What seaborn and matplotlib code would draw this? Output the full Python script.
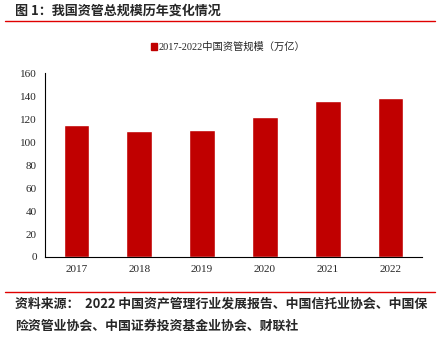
import matplotlib
matplotlib.use("Agg")
import matplotlib.pyplot as plt
import seaborn as sns
import pandas as pd
from matplotlib.patches import Patch
from matplotlib.lines import Line2D

years = ["2017", "2018", "2019", "2020", "2021", "2022"]
scale = [115.3, 109.8, 110.8, 122.1, 135.9, 138.6]
yticks = [0, 20, 40, 60, 80, 100, 120, 140, 160]
series_name = "2017-2022中国资管规模（万亿）"
title = "图 1：我国资管总规模历年变化情况"
source = ["资料来源：  2022 中国资产管理行业发展报告、中国信托业协会、中国保",
          "险资管业协会、中国证券投资基金业协会、财联社"]

sns.set_theme(style="white")
plt.rcParams["font.family"] = ["Liberation Serif", "Noto Sans CJK SC", "DejaVu Sans"]

red = "#C00000"
df = pd.DataFrame({"year": years, "scale": scale})

fig = plt.figure(figsize=(4.46, 3.37), dpi=100)
ax = fig.add_axes([45 / 446, 80 / 337, 377 / 446, 183.7 / 337])
sns.barplot(data=df, x="year", y="scale", color=red, width=0.41,
            saturation=1, ax=ax)

ax.set_xlim(-0.5, len(years) - 0.5)
ax.set_ylim(0, 160)
ax.set_yticks(yticks)
ax.set_yticklabels([str(v) for v in yticks], fontsize=8)
ax.set_xticks([i - 0.5 for i in range(len(years) + 1)])
ax.set_xticklabels([])
ax.set_xticks(range(len(years)), minor=True)
ax.set_xticklabels(years, minor=True, fontsize=8)
ax.tick_params(axis="x", which="major", direction="out", length=3,
               width=0.8, color="black")
ax.tick_params(axis="x", which="minor", length=0, pad=6)
ax.tick_params(axis="y", direction="out", length=3, width=0.8,
               color="black", pad=3)
ax.set_xlabel("")
ax.set_ylabel("")
for s in ["top", "right"]:
    ax.spines[s].set_visible(False)
for s in ["left", "bottom"]:
    ax.spines[s].set_color("black")
    ax.spines[s].set_linewidth(0.8)

ax.legend(handles=[Patch(facecolor=red, edgecolor=red, label=series_name)],
          loc="center", bbox_to_anchor=(228 / 446, 1 - 47 / 337),
          bbox_transform=fig.transFigure, frameon=False, fontsize=7.4,
          handlelength=0.6, handleheight=0.6, handletextpad=0.15,
          borderaxespad=0)

fig.text(15 / 446, 1 - 11 / 337, title, fontsize=9.4, fontweight="bold",
         family=["Noto Sans CJK SC", "DejaVu Sans"], va="center", ha="left")
fig.add_artist(Line2D([5 / 446, 435 / 446], [1 - 21 / 337, 1 - 21 / 337],
                      color="#E00000", linewidth=1.0,
                      transform=fig.transFigure))
fig.add_artist(Line2D([5 / 446, 435 / 446], [1 - 292 / 337, 1 - 292 / 337],
                      color="#E00000", linewidth=1.0,
                      transform=fig.transFigure))
for i, line in enumerate(source):
    fig.text(15 / 446, 1 - (304 + 22 * i) / 337, line, fontsize=9.3,
             fontweight="bold", fontstyle="italic",
             family=["Noto Sans CJK SC", "DejaVu Sans"], va="center",
             ha="left")

fig.savefig("out.png", dpi=100, facecolor="white")
